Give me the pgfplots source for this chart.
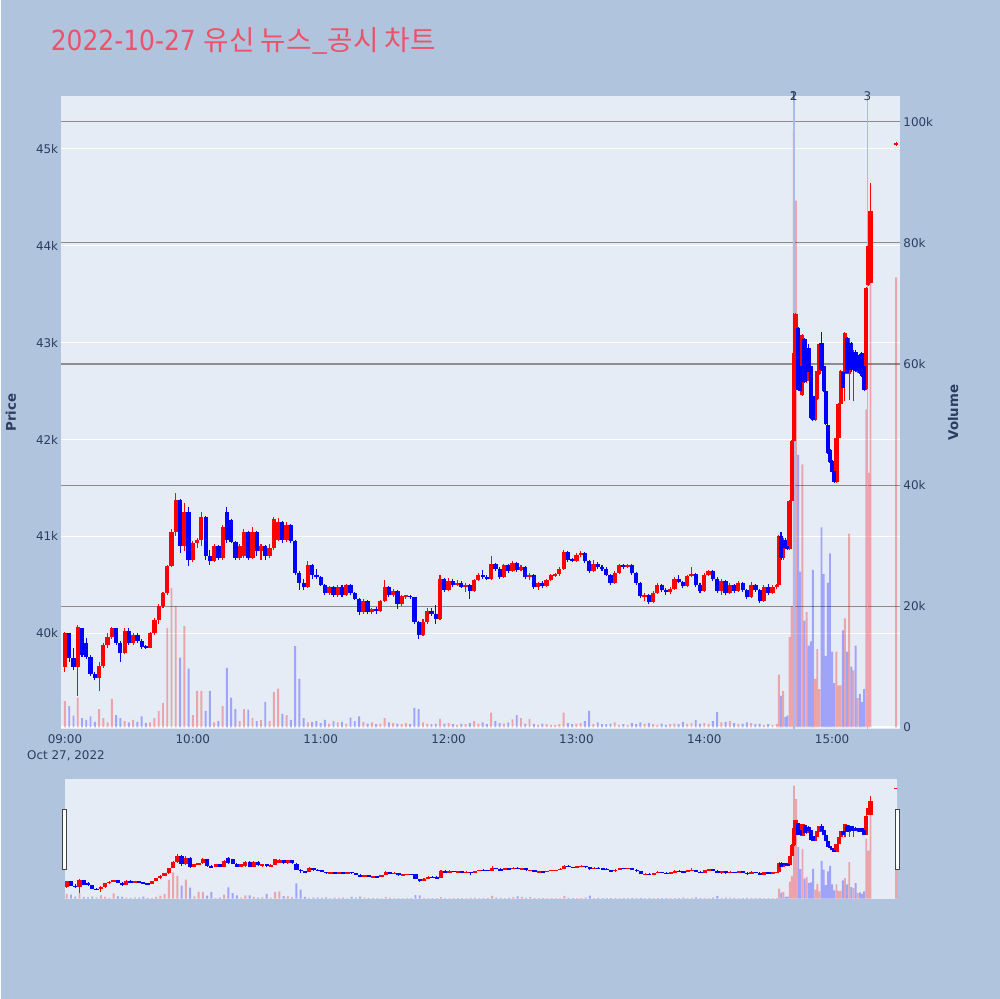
\documentclass[border=0pt]{standalone}
\usepackage{pgfplots}
\pgfplotsset{compat=1.18}
\usepackage{pgfplotstable}
\usepackage{fontspec}
\setmainfont{DejaVu Sans}
\newfontfamily\condfont{DejaVu Sans Condensed}
\newfontfamily\cjk{Noto Sans CJK KR}
\definecolor{figbg}{RGB}{176,196,222}
\definecolor{plotbg}{RGB}{229,236,246}
\definecolor{txt}{RGB}{42,63,95}
\definecolor{ttl}{RGB}{236,82,104}
\definecolor{upc}{RGB}{255,0,0}
\definecolor{dnc}{RGB}{0,0,255}
\definecolor{gridtwo}{RGB}{140,140,140}
\definecolor{vline}{RGB}{170,185,240}
\definecolor{handle}{RGB}{68,68,68}

\pgfplotstableread{
t o h l c v
0 39650 40010 39600 40000 4300
2 40000 40000 39700 39750 3500
4 39750 39850 39620 39650 1900
6 39650 40090 39350 40070 4900
8 40050 40060 39760 39780 1500
10 39900 39950 39730 39760 1200
12 39760 39780 39560 39580 1800
14 39580 39600 39520 39540 900
16 39540 39700 39400 39660 3000
18 39660 39900 39640 39880 1500
20 39880 40000 39850 39960 800
22 39960 40070 39940 40050 4700
24 40050 40060 39880 39900 2000
26 39900 39920 39700 39800 1500
28 39800 40050 39790 40020 1000
30 40020 40060 39880 39900 800
32 39900 40000 39880 39980 1200
34 39980 40000 39900 39920 900
36 39920 39940 39840 39860 1800
38 39860 39880 39840 39850 700
40 39850 40010 39850 40000 800
42 40000 40160 39980 40140 1500
44 40140 40300 40100 40280 2700
46 40280 40430 40260 40420 4000
48 40420 40700 40400 40690 16400
50 40690 41080 40680 41050 23000
52 41050 41450 41000 41380 20000
54 41380 41390 40830 40900 11500
56 40900 41340 40850 41250 16700
58 41250 41300 40690 40760 9700
60 40760 40950 40740 40930 2000
62 40930 40980 40880 40960 6000
64 40960 41250 40900 41200 6000
66 41200 41210 40760 40800 2700
68 40800 40860 40710 40750 6000
70 40750 40920 40740 40900 800
72 40900 40910 40760 40780 1000
74 40780 41120 40760 41100 3500
76 41250 41300 40930 40960 9800
78 41170 41180 40930 40940 4900
80 40940 40950 40760 40780 3000
82 40780 40920 40760 40900 1000
84 40800 41080 40780 41050 3000
86 41050 41060 40760 40780 2900
88 40780 41100 40770 41050 1500
90 41050 41060 40800 40850 1000
92 40850 40920 40760 40900 1200
94 40900 40910 40760 40800 4200
96 40800 40920 40780 40880 1000
98 40880 41200 40860 41180 5800
100 40960 41190 40950 41150 6400
102 41150 41160 40930 40960 2200
104 40960 41150 40940 41120 2000
106 41120 41130 40930 40950 1200
108 40950 40960 40600 40620 13400
110 40620 40640 40450 40520 8000
112 40520 40560 40450 40480 1500
114 40480 40750 40470 40700 800
116 40700 40720 40560 40600 900
118 40600 40660 40560 40580 1000
120 40580 40590 40490 40500 700
122 40500 40510 40400 40420 1200
124 40420 40490 40400 40480 600
126 40480 40490 40380 40400 1000
128 40400 40500 40380 40480 800
130 40480 40500 40380 40400 900
132 40400 40510 40390 40500 600
134 40500 40510 40400 40420 1600
136 40420 40430 40340 40350 1000
138 40350 40360 40190 40220 1800
140 40220 40350 40200 40330 900
142 40330 40340 40200 40220 600
144 40220 40260 40200 40250 800
146 40250 40270 40200 40230 500
148 40230 40340 40220 40330 600
150 40330 40550 40320 40480 1500
152 40480 40490 40380 40400 800
154 40400 40460 40370 40440 700
156 40440 40450 40250 40300 600
158 40300 40400 40280 40380 500
160 40380 40400 40350 40390 700
162 40390 40400 40350 40370 500
164 40370 40380 40100 40120 3200
166 40120 40130 39940 39980 3000
168 39980 40150 39970 40120 800
170 40120 40260 40100 40230 600
172 40230 40260 40180 40200 500
174 40200 40290 40100 40150 600
176 40150 40600 40140 40560 1400
178 40560 40570 40430 40450 600
180 40450 40570 40440 40540 700
182 40540 40560 40480 40500 500
184 40500 40550 40490 40520 400
186 40520 40540 40470 40480 600
188 40480 40520 40430 40500 500
190 40500 40510 40350 40440 700
192 40440 40560 40430 40550 1000
194 40550 40620 40540 40600 600
196 40600 40650 40560 40580 800
198 40580 40600 40550 40560 500
200 40560 40800 40550 40720 2400
202 40720 40730 40640 40660 1000
204 40660 40680 40560 40580 700
206 40580 40720 40570 40700 600
208 40700 40720 40620 40640 800
210 40640 40750 40630 40730 1300
212 40730 40740 40630 40650 2000
214 40650 40700 40640 40680 1500
216 40680 40690 40560 40580 600
218 40580 40620 40550 40600 1400
220 40600 40610 40460 40480 500
222 40480 40530 40450 40520 400
224 40520 40540 40470 40490 600
226 40490 40560 40480 40550 500
228 40550 40610 40540 40600 400
230 40590 40620 40580 40610 400
232 40610 40680 40590 40660 500
234 40660 40860 40650 40840 2400
236 40840 40850 40740 40760 700
238 40760 40780 40740 40750 500
240 40750 40830 40740 40810 600
242 40810 40850 40790 40830 700
244 40830 40840 40730 40750 1000
246 40750 40760 40620 40640 2700
248 40640 40760 40630 40720 500
250 40720 40740 40660 40680 800
252 40680 40700 40640 40660 500
254 40660 40680 40590 40600 500
256 40600 40610 40500 40520 600
258 40520 40640 40510 40620 800
260 40620 40720 40610 40700 400
262 40700 40720 40660 40680 500
264 40680 40720 40670 40710 400
266 40710 40720 40600 40620 700
268 40620 40630 40500 40520 500
270 40520 40530 40360 40380 800
272 40380 40420 40330 40400 600
274 40400 40410 40300 40320 700
276 40320 40440 40310 40420 500
278 40420 40520 40410 40500 400
280 40500 40510 40430 40450 600
282 40450 40470 40400 40430 400
284 40430 40480 40410 40460 500
286 40460 40580 40450 40560 600
288 40560 40600 40520 40530 500
290 40530 40540 40470 40490 900
292 40490 40600 40480 40590 600
294 40590 40680 40580 40610 700
296 40610 40620 40480 40500 1200
298 40500 40520 40420 40440 600
300 40440 40620 40430 40600 700
302 40600 40650 40590 40640 500
304 40640 40650 40540 40560 1000
306 40560 40580 40420 40440 2500
308 40440 40560 40400 40540 800
310 40540 40550 40400 40420 900
312 40420 40520 40410 40500 1000
314 40500 40510 40420 40440 700
316 40440 40540 40430 40520 500
318 40520 40530 40430 40450 600
320 40450 40460 40350 40370 800
322 40370 40530 40360 40500 700
324 40500 40510 40430 40450 500
326 40450 40460 40310 40330 600
328 40330 40500 40320 40480 400
330 40480 40510 40400 40420 500
332 40420 40500 40410 40480 400
334 40480 40510 40460 40500 500
335 40500 41010 40490 41000 8700
336 41000 41050 40760 40780 5200
337 40780 40980 40760 40960 6000
338 40960 40980 40870 40880 1700
339 40900 40910 40860 40870 1900
340 40870 41380 40860 41370 14900
341 41370 41990 41190 41980 20000
342 41980 43310 41890 42890 98600
343 42590 43310 42580 43300 87000
344 43150 43160 42500 42510 45000
345 42760 42800 42480 42500 25700
346 42460 43090 42450 43080 43400
347 43040 43050 42580 42590 17600
348 42600 42940 42580 42930 19000
349 42940 42990 42680 42700 13500
350 42760 42780 42210 42220 14200
351 42450 42460 42190 42200 26000
352 42200 42460 42190 42450 8000
353 42420 42720 42410 42710 12900
354 42680 43000 42670 42990 6300
355 43000 43110 42710 42720 33000
356 42760 42770 42490 42500 25300
357 42500 42510 42150 42160 11800
358 42150 42160 41850 41860 23900
359 41890 41900 41760 41770 28700
360 41780 41790 41650 41660 12500
361 41680 41690 41550 41560 7300
362 41560 42030 41550 42020 12500
363 42020 42380 42000 42370 6900
364 42370 42720 42360 42710 6900
365 42700 42710 42520 42530 16000
366 42680 43110 42400 43100 18000
367 43050 43060 42680 42690 12500
368 42680 43050 42410 43000 32000
369 43000 43010 42700 42720 10000
370 42720 42920 42400 42900 9400
371 42900 42920 42700 42710 13500
372 42700 42880 42690 42870 4800
373 42870 42880 42680 42690 5500
374 42890 42900 42650 42660 4200
375 42760 42770 42500 42510 6300
376 42520 43570 42510 43560 52500
377 43590 44010 43580 44000 42000
378 43620 44650 43610 44360 73600
390 45040 45070 45030 45060 74300
}\data

\tikzset{tl/.style={font=\fontsize{6.8}{8}\selectfont, text=txt}}
\pgfplotsset{
  wick/.style={draw=none, mark=none, forget plot, unbounded coords=discard,
    error bars/.cd, y dir=both, y explicit, error mark=none,
    error bar style={draw=#1, line width=0.6pt, line cap=butt}},
  body/.style={draw=none, mark=none, forget plot, unbounded coords=discard,
    error bars/.cd, y dir=both, y explicit, error mark=none,
    error bar style={draw=#1, line width=2.4pt, line cap=butt}},
  vol/.style={ybar, bar width=1.1pt, bar shift=0pt, fill=#1, fill opacity=0.3,
    draw=none, forget plot, unbounded coords=discard},
}

\newcommand\candles{%
  \addplot[wick=upc] table[x=t, y expr={\thisrow{c}>=\thisrow{o} ? (\thisrow{h}+\thisrow{l})/2 : nan}, y error expr={(\thisrow{h}-\thisrow{l})/2}] {\data};
  \addplot[wick=dnc] table[x=t, y expr={\thisrow{c}<\thisrow{o} ? (\thisrow{h}+\thisrow{l})/2 : nan}, y error expr={(\thisrow{h}-\thisrow{l})/2}] {\data};
  \addplot[body=upc] table[x=t, y expr={\thisrow{c}>=\thisrow{o} ? (\thisrow{o}+\thisrow{c})/2 : nan}, y error expr={max(abs(\thisrow{c}-\thisrow{o})/2,10)}] {\data};
  \addplot[body=dnc] table[x=t, y expr={\thisrow{c}<\thisrow{o} ? (\thisrow{o}+\thisrow{c})/2 : nan}, y error expr={max(abs(\thisrow{c}-\thisrow{o})/2,10)}] {\data};
}
\newcommand\volumes{%
  \addplot[vol=upc] table[x=t, y expr={\thisrow{c}>=\thisrow{o} ? \thisrow{v} : nan}] {\data};
  \addplot[vol=dnc] table[x=t, y expr={\thisrow{c}<\thisrow{o} ? \thisrow{v} : nan}] {\data};
}

\begin{document}
\begin{tikzpicture}
\fill[figbg] (0cm,0cm) rectangle (20cm,20cm);

% main: price background and grid
\begin{axis}[
  at={(1.2cm,5.4cm)}, anchor=south west, scale only axis,
  width=16.8cm, height=12.68cm,
  xmin=-1.875, xmax=391.9, ymin=39010, ymax=45546,
  axis background/.style={fill=plotbg},
  axis line style={draw=none}, tick style={draw=none},
  scaled y ticks=false, scaled x ticks=false,
  xtick={0,60,120,180,240,300,360},
  xticklabels={09:00,10:00,11:00,12:00,13:00,14:00,15:00},
  ytick={40000,41000,42000,43000,44000,45000},
  yticklabels={40k,41k,42k,43k,44k,45k},
  ymajorgrids, grid style={white, line width=0.6pt},
  ticklabel style={tl},
  xticklabel style={inner sep=0pt, yshift=-0.1cm},
  yticklabel style={inner sep=0pt, xshift=-0.05cm},
]
\end{axis}

% main: volume
\begin{axis}[
  at={(1.2cm,5.4cm)}, anchor=south west, scale only axis,
  width=16.8cm, height=12.68cm,
  xmin=-1.875, xmax=391.9, ymin=-330, ymax=104280,
  axis line style={draw=none}, tick style={draw=none},
  scaled y ticks=false,
  xtick=\empty,
  ytick={20000,40000,60000,80000,100000},
  yticklabels={20k,40k,60k,80k,100k},
  extra y ticks={0}, extra y tick labels={0},
  extra y tick style={grid style={white, line width=1pt}},
  yticklabel pos=right,
  ymajorgrids, grid style={gridtwo, line width=0.6pt},
  ticklabel style={tl},
  yticklabel style={inner sep=0pt, xshift=0.06cm},
]
\volumes
\end{axis}

% main: candles
\begin{axis}[
  at={(1.2cm,5.4cm)}, anchor=south west, scale only axis,
  width=16.8cm, height=12.68cm,
  xmin=-1.875, xmax=391.9, ymin=39010, ymax=45546,
  hide axis, clip mode=individual,
]
\draw[vline, line width=1.1pt] (axis cs:342,39010) -- (axis cs:342,45546);
\draw[vline, line width=1.1pt] (axis cs:376.6,39010) -- (axis cs:376.6,45546);
\candles
\node[tl] at (axis cs:342,45546) {1};
\node[tl] at (axis cs:342,45546) {2};
\node[tl] at (axis cs:376.6,45546) {3};
\end{axis}

% range slider
\begin{axis}[
  at={(1.28cm,2.0cm)}, anchor=south west, scale only axis,
  width=16.66cm, height=2.4cm,
  xmin=-0.85, xmax=390.5, ymin=-330, ymax=104280,
  axis background/.style={fill=plotbg},
  axis line style={draw=none}, tick style={draw=none},
  xtick=\empty, ytick=\empty,
]
\volumes
\end{axis}
\begin{axis}[
  at={(1.28cm,2.0cm)}, anchor=south west, scale only axis,
  width=16.66cm, height=2.4cm,
  xmin=-0.85, xmax=390.5, ymin=39010, ymax=45546,
  hide axis,
]
\candles
\end{axis}

\filldraw[fill=white, draw=handle, line width=0.5pt] (1.23cm,2.6cm) rectangle (1.31cm,3.8cm);
\filldraw[fill=white, draw=handle, line width=0.5pt] (17.91cm,2.6cm) rectangle (17.99cm,3.8cm);

% texts
\node[anchor=base west, inner sep=0pt, text=ttl] at (0.99cm,18.99cm)
  {\fontsize{15.8}{18}\selectfont\condfont 2022-10-27 {\cjk\fontsize{15.8}{18}\selectfont 유신 뉴스\_공시 차트}};
\node[rotate=90, text=txt, font=\bfseries\fontsize{7.6}{9}\selectfont] at (0.2cm,11.74cm) {Price};
\node[rotate=90, text=txt, font=\bfseries\fontsize{7.6}{9}\selectfont] at (19.06cm,11.74cm) {Volume};
\node[anchor=base, inner sep=0pt, tl] at (1.3cm,4.79cm) {Oct 27, 2022};
\end{tikzpicture}
\end{document}
